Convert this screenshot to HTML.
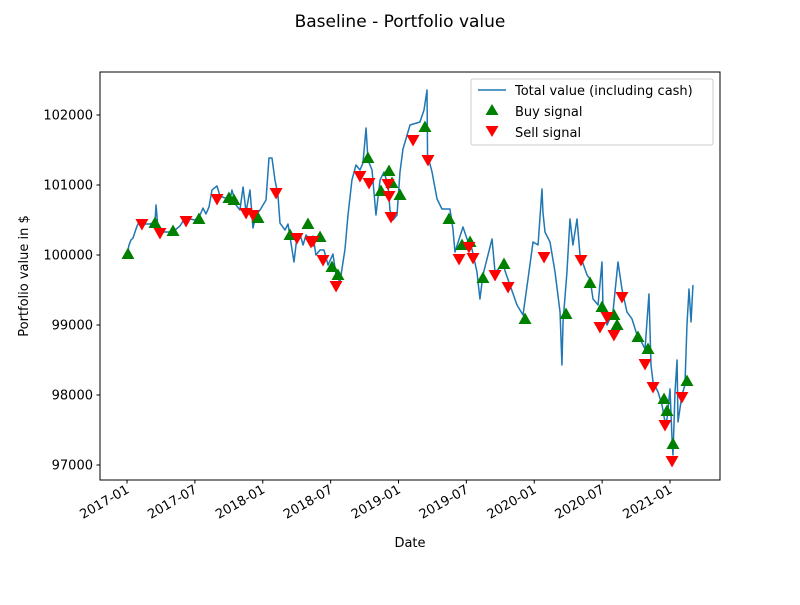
<!DOCTYPE html>
<html><head><meta charset="utf-8"><style>
body{margin:0;background:#fff}
svg{font-family:"DejaVu Sans","Liberation Sans",sans-serif}
</style></head><body>
<svg id="chart" width="800" height="600" viewBox="0 0 800 600" xmlns="http://www.w3.org/2000/svg">
<rect width="800" height="600" fill="#fff"/>
<text x="400" y="27" text-anchor="middle" font-size="17">Baseline - Portfolio value</text>
<g id="plot"></g>
<rect x="100" y="72" width="620" height="408" fill="none" stroke="#000" stroke-width="1"/>
<text transform="translate(28,276) rotate(-90)" text-anchor="middle" font-size="13">Portfolio value in $</text>
<text x="410" y="547" text-anchor="middle" font-size="13">Date</text>
<g>
<rect x="471" y="79" width="242" height="66" rx="2" fill="#fff" fill-opacity="0.8" stroke="#ccc"/>
<line x1="478" y1="90" x2="506" y2="90" stroke="#1f77b4" stroke-width="1.5"/>
<text x="515" y="95" font-size="13">Total value (including cash)</text>
<path d="M492,104 l6.5,11 h-13 z" fill="green"/>
<text x="515" y="116" font-size="13">Buy signal</text>
<path d="M485.5,126 h13 l-6.5,11 z" fill="red"/>
<text x="515" y="137" font-size="13">Sell signal</text>
</g>
</svg>
<script>
const lineT=[0,.015,.029,.044,.059,.074,.088,.110,.133,.169,.206,.214,.228,.243,.317,.354,.390,.427,.464,.501,.538,.560,.582,.604,.626,.663,.685,.722,.759,.773,.803,.832,.855,.877,.906,.928,.950,.980,1.024,1.046,1.068,1.090,1.112,1.127,1.164,1.186,1.215,1.230,1.252,1.274,1.297,1.319,1.348,1.370,1.392,1.422,1.451,1.481,1.517,1.540,1.569,1.606,1.628,1.657,1.687,1.716,1.738,1.761,1.775,1.805,1.834,1.864,1.893,1.923,1.937,1.959,1.989,2.011,2.033,2.085,2.158,2.188,2.210,2.214,2.247,2.284,2.320,2.379,2.401,2.416,2.475,2.505,2.541,2.578,2.600,2.622,2.689,2.711,2.770,2.821,2.873,2.917,2.954,2.991,3.028,3.057,3.064,3.079,3.116,3.153,3.190,3.204,3.212,3.241,3.263,3.285,3.315,3.337,3.389,3.411,3.433,3.470,3.499,3.506,3.536,3.580,3.617,3.646,3.683,3.720,3.757,3.779,3.816,3.845,3.860,3.875,3.912,3.941,3.963,3.978,4.000,4.015,4.022,4.037,4.052,4.059,4.088,4.110,4.125,4.140,4.155,4.169];
const lineV=[100000,100143,100214,100243,100329,100414,100471,100457,100443,100443,100471,100714,100386,100329,100329,100357,100414,100529,100514,100500,100571,100671,100586,100686,100929,100986,100843,100814,100786,100929,100714,100643,100971,100614,100929,100386,100571,100643,100786,101386,101386,101071,100857,100457,100357,100443,100086,99900,100257,100300,100143,100286,100214,100271,100000,100071,100071,99857,100014,99714,99614,100086,100571,101071,101286,101214,101314,101814,101357,101214,100571,101071,101186,101000,100643,100500,100571,101186,101514,101857,101900,102071,102357,101429,101186,100800,100657,100657,100371,100043,100400,100229,100086,99757,99371,99714,100229,99757,99857,99571,99286,99143,99657,100186,100143,100943,100614,100329,100186,99757,99186,98429,99043,99757,100514,100143,100514,100000,99714,99657,99371,99286,99900,99286,99000,99186,99900,99514,99186,99086,98857,98800,98657,99443,98429,98186,98043,97857,97614,97657,98086,97371,97143,98043,98500,97614,98000,98143,99000,99514,99043,99571];
const buyT=[.007,.206,.339,.530,.751,.788,.965,1.201,1.333,1.422,1.510,1.554,1.775,1.871,1.930,1.952,2.011,2.195,2.372,2.468,2.527,2.622,2.777,2.932,3.234,3.411,3.499,3.587,3.610,3.764,3.838,3.956,3.978,4.022,4.125];
const buyV=[100000,100443,100329,100500,100800,100771,100514,100271,100429,100243,99814,99700,101371,100900,101186,101014,100843,101814,100500,100129,100171,99657,99857,99071,99143,99586,99243,99129,98986,98814,98643,97929,97757,97286,98186];
const sellT=[.110,.243,.435,.663,.877,.928,1.098,1.252,1.355,1.370,1.444,1.540,1.716,1.783,1.923,1.930,1.945,2.107,2.217,2.446,2.519,2.549,2.711,2.807,3.072,3.344,3.484,3.536,3.587,3.646,3.816,3.875,3.963,4.015,4.088];
const sellV=[100457,100329,100500,100814,100614,100586,100900,100257,100200,100214,99943,99571,101143,101043,101029,100857,100557,101657,101371,99957,100129,99971,99729,99557,99986,99943,98986,99129,98871,99414,98457,98129,97586,97071,97986];
const yTicks=[97000,98000,99000,100000,101000,102000];
const xTickT=[0,0.5,1,1.5,2,2.5,3,3.5,4];
const xTickLabels=["2017-01","2017-07","2018-01","2018-07","2019-01","2019-07","2020-01","2020-07","2021-01"];
const NS="http://www.w3.org/2000/svg";
const X=t=>127+t*135.75;
const Y=v=>465-(v-97000)*0.07;
const g=document.getElementById('plot');
function mk(tag,attrs){const e=document.createElementNS(NS,tag);for(const k in attrs)e.setAttribute(k,attrs[k]);g.appendChild(e);return e;}
yTicks.forEach(v=>{
 const l=mk('line',{x1:96.5,x2:100,y1:Y(v),y2:Y(v),stroke:'#000'});
 
 
 const t=mk('text',{x:93,y:Y(v)+4.5,'text-anchor':'end','font-size':'13'});
 
 
 t.textContent=v;
});
xTickT.forEach((tt,i)=>{
 const l=mk('line',{x1:X(tt),x2:X(tt),y1:480,y2:483.5,stroke:'#000'});
 
 
 const t=mk('text',{transform:`translate(${X(tt)+3},${492}) rotate(-30)`,'text-anchor':'end','font-size':'13'});
 
 
 t.textContent=xTickLabels[i];
});
const p=mk('polyline',{points:lineT.map((t,i)=>X(t)+','+Y(lineV[i])).join(' '),fill:'none',stroke:'#1f77b4','stroke-width':1.5,'stroke-linejoin':'round'});


buyT.forEach((t,i)=>{
 const x=X(t),y=Y(buyV[i]);
 const m=mk('path',{d:`M${x},${y-7.5} l6.5,11.5 h-13 z`,fill:'green'});
 
 
});
sellT.forEach((t,i)=>{
 const x=X(t),y=Y(sellV[i]);
 const m=mk('path',{d:`M${x-6.5},${y-4} h13 l-6.5,11.5 z`,fill:'red'});
 
 
});
</script>
</body></html>
